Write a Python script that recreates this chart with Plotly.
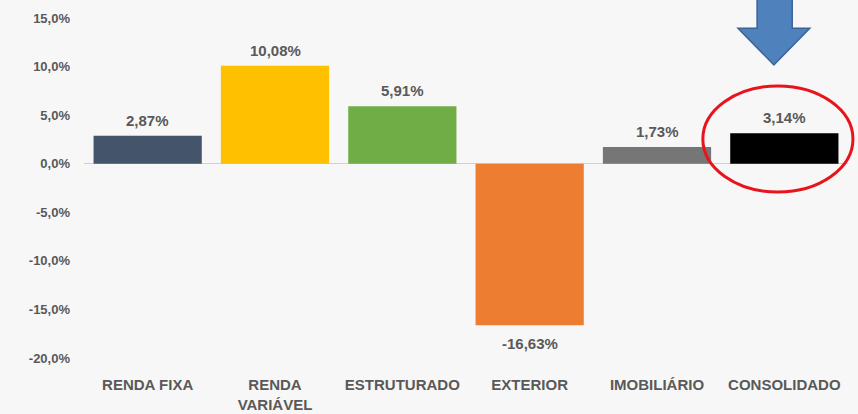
import plotly.graph_objects as go

categories = ["RENDA FIXA", "RENDA<br>VARIÁVEL", "ESTRUTURADO", "EXTERIOR", "IMOBILIÁRIO", "CONSOLIDADO"]
values = [2.87, 10.08, 5.91, -16.63, 1.73, 3.14]
colors = ["#44546a", "#ffc000", "#70ad47", "#ed7d31", "#767676", "#000000"]
tick_vals = [15, 10, 5, 0, -5, -10, -15, -20]
tick_text = ["15,0%", "10,0%", "5,0%", "0,0%", "-5,0%", "-10,0%", "-15,0%", "-20,0%"]

labels = [f"{v:.2f}%".replace(".", ",") for v in values]

FONT = "Liberation Sans, Arial, sans-serif"
TXT = "#595959"
BG = "#f7f7f7"

fig = go.Figure(go.Bar(
    x=categories, y=values, marker=dict(color=colors, line=dict(width=0)),
    width=0.85, hoverinfo="skip",
))

for c, v, t in zip(categories, values, labels):
    fig.add_annotation(
        x=c, y=v, text=f"<b>{t}</b>", showarrow=False,
        yanchor="bottom" if v >= 0 else "top",
        yshift=5 if v >= 0 else -8,
        font=dict(family=FONT, size=15, color=TXT),
    )

# red ellipse around CONSOLIDADO
fig.add_shape(type="circle", xref="paper", yref="paper",
              x0=0.810, x1=1.0065, y0=0.488, y1=0.80,
              line=dict(color="#e8141b", width=3))

# blue arrow pointing down
fig.add_shape(type="path", xref="paper", yref="paper",
              path="M 0.881 1.08 L 0.927 1.08 L 0.927 0.97 L 0.950 0.97 L 0.903 0.862 "
                   "L 0.856 0.97 L 0.881 0.97 Z",
              fillcolor="#4f81bd", line=dict(color="#3a6499", width=1.5))

fig.update_layout(
    width=858, height=414,
    margin=dict(l=84, r=10, t=18, b=56, autoexpand=False),
    paper_bgcolor=BG, plot_bgcolor=BG,
    showlegend=False,
    font=dict(family=FONT, size=13, color=TXT),
    xaxis=dict(
        showgrid=False, showline=False, ticks="", automargin=False,
        tickfont=dict(family=FONT, size=15, color=TXT),
        ticklabelstandoff=16,
        tickvals=categories,
        ticktext=[f"<b>{c}</b>" for c in categories],
    ),
    yaxis=dict(
        range=[-20, 15], tickvals=tick_vals, ticktext=[f"<b>{t}</b>" for t in tick_text],
        showgrid=False, zeroline=True, zerolinecolor="#d0d0d0", zerolinewidth=1,
        showline=False, ticks="", ticklabelstandoff=13, automargin=False,
        tickfont=dict(family=FONT, size=13, color=TXT),
    ),
)

fig.write_html(
    "out.html",
    config={"displayModeBar": False},
    post_script="document.body.style.margin='0';document.body.style.background='" + BG + "';",
)
